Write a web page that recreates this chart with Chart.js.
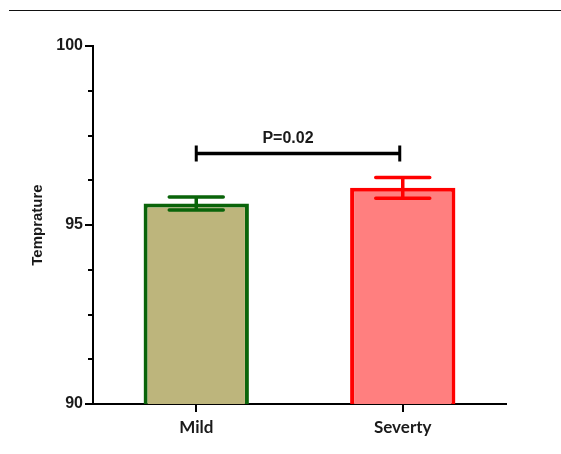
<!DOCTYPE html>
<html>
<head>
<meta charset="utf-8">
<script src="https://cdn.jsdelivr.net/npm/chart.js@4/dist/chart.umd.min.js"></script>
<style>
html, body { margin: 0; padding: 0; background: #fff; }
#wrap { position: relative; width: 561px; height: 454px; }
#rule { position: absolute; left: 9px; right: 0; top: 10px; border-top: 1.5px solid #111; }
canvas { position: absolute; left: 0; top: 0; }
</style>
</head>
<body>
<div id="wrap">
  <div id="rule"></div>
  <canvas id="chart" width="561" height="454"></canvas>
</div>
<script>
// ── Data ─────────────────────────────────────────────────────────
const categories = ['Mild', 'Severty'];
const meanTemp = [95.6, 96.04];
const semTemp = [0.18, 0.29];
const yMajorTicks = [90, 95, 100];
const pLabel = 'P=0.02';
const pBracketValue = 97.0;

// ── Design tokens ────────────────────────────────────────────────
const FILL = ['#bdb57c', '#ff7f7f'];
const BORDER = ['#0a640a', '#ff0000'];
const INK = '#1a1a1a';
const ARIAL = '"Liberation Sans", Arial, sans-serif';
const CAP = 27;

// error bars, P bracket and the short minor ticks on the y axis
const extras = {
    id: 'extras',
    afterDatasetsDraw(chart) {
        const ctx = chart.ctx;
        const y = chart.scales.y;
        const bars = chart.getDatasetMeta(0).data;
        ctx.save();
        ctx.lineCap = 'round';

        bars.forEach((bar, i) => {
            const top = y.getPixelForValue(meanTemp[i] + semTemp[i]);
            const bot = y.getPixelForValue(meanTemp[i] - semTemp[i]);
            ctx.strokeStyle = BORDER[i];
            ctx.lineWidth = 3.5;
            ctx.beginPath();
            ctx.moveTo(bar.x, top); ctx.lineTo(bar.x, bot);
            ctx.moveTo(bar.x - CAP, top); ctx.lineTo(bar.x + CAP, top);
            ctx.moveTo(bar.x - CAP, bot); ctx.lineTo(bar.x + CAP, bot);
            ctx.stroke();
        });

        // significance bracket
        const x1 = bars[0].x, x2 = bars[1].x - 3;
        const by = y.getPixelForValue(pBracketValue);
        ctx.strokeStyle = '#000';
        ctx.lineCap = 'butt';
        ctx.lineWidth = 3.5;
        ctx.beginPath();
        ctx.moveTo(x1, by); ctx.lineTo(x2, by);
        ctx.stroke();
        ctx.lineWidth = 3;
        ctx.beginPath();
        ctx.moveTo(x1, by - 8); ctx.lineTo(x1, by + 8);
        ctx.moveTo(x2, by - 8); ctx.lineTo(x2, by + 8);
        ctx.stroke();

        ctx.fillStyle = INK;
        ctx.font = 'bold 16px ' + ARIAL;
        ctx.textAlign = 'center';
        ctx.textBaseline = 'alphabetic';
        ctx.fillText(pLabel, (x1 + x2) / 2 - 10, by - 10);

        // minor ticks (shorter than the labelled ones)
        ctx.strokeStyle = '#000';
        ctx.lineWidth = 2;
        ctx.beginPath();
        for (const t of y.ticks) {
            if (yMajorTicks.includes(t.value)) continue;
            const py = Math.round(y.getPixelForValue(t.value));
            ctx.moveTo(chart.chartArea.left - 5, py);
            ctx.lineTo(chart.chartArea.left, py);
        }
        ctx.stroke();
        ctx.restore();
    },
};

new Chart(document.getElementById('chart').getContext('2d'), {
    type: 'bar',
    data: {
        labels: categories,
        datasets: [{
            data: meanTemp,
            backgroundColor: FILL,
            borderColor: BORDER,
            borderWidth: 4,
            categoryPercentage: 1,
            barPercentage: 0.51,
        }],
    },
    options: {
        responsive: false,
        animation: false,
        layout: { padding: { top: 46, right: 55, left: 0, bottom: 0 } },
        plugins: { legend: { display: false }, tooltip: { enabled: false } },
        scales: {
            x: {
                afterFit: s => { s.height = 50; },
                border: { color: '#000', width: 2 },
                grid: { offset: false, drawOnChartArea: false, tickLength: 8, lineWidth: 2, color: '#000' },
                ticks: {
                    color: INK,
                    padding: 5,
                    font: { family: 'Lato, "Open Sans", sans-serif', size: 17, weight: 'bold' },
                },
            },
            y: {
                min: 90,
                max: 100,
                afterFit: s => { s.width = 93; },
                border: { color: '#000', width: 2 },
                grid: {
                    drawOnChartArea: false,
                    tickLength: 8,
                    lineWidth: 2,
                    tickColor: c => yMajorTicks.includes(c.tick.value) ? '#000' : 'rgba(0,0,0,0)',
                },
                ticks: {
                    stepSize: 1.25,
                    padding: 2,
                    color: INK,
                    font: { family: ARIAL, size: 16, weight: 'bold' },
                    callback: v => yMajorTicks.includes(v) ? String(v) : '',
                },
                title: {
                    display: true,
                    text: 'Temprature',
                    color: INK,
                    padding: { top: 29, bottom: 0 },
                    font: { family: ARIAL, size: 15, weight: 'bold' },
                },
            },
        },
    },
    plugins: [extras],
});
</script>
</body>
</html>
